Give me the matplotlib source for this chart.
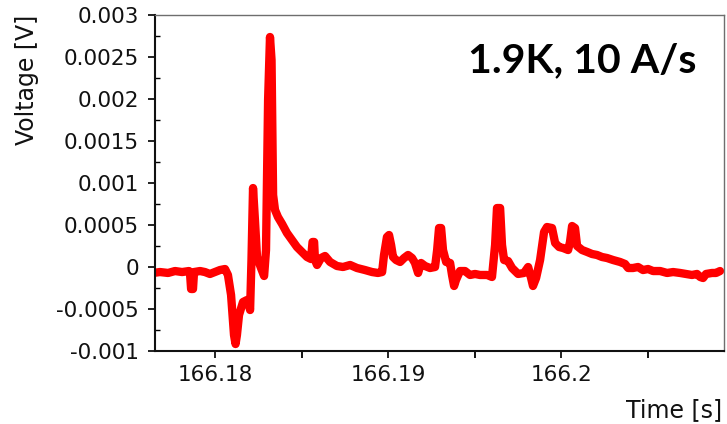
import matplotlib
matplotlib.use("Agg")
import matplotlib.pyplot as plt
import numpy as np
from matplotlib.ticker import FixedLocator, MultipleLocator, FuncFormatter

# Quench-detection voltage trace; time offsets (ms) are relative to t0
t0 = 166.18
time_ms = [
    -3.60, -3.20, -2.73, -2.33, -1.92, -1.52, -1.46, -1.40, -1.29, -1.23,
    -0.88, -0.60, -0.31, -0.02, 0.27, 0.56, 0.73, 0.91, 1.08, 1.17,
    1.25, 1.37, 1.60, 1.83, 1.95, 2.01, 2.09, 2.18, 2.29, 2.41,
    2.64, 2.82, 2.93, 3.05, 3.16, 3.25, 3.34, 3.45, 3.62, 3.86,
    4.14, 4.43, 4.72, 5.01, 5.30, 5.53, 5.62, 5.71, 5.76, 5.88,
    6.11, 6.34, 6.63, 7.03, 7.38, 7.79, 8.19, 8.65, 9.06, 9.40,
    9.64, 9.75, 9.92, 10.04, 10.16, 10.27, 10.45, 10.68, 10.91, 11.14,
    11.37, 11.54, 11.72, 11.89, 12.12, 12.41, 12.70, 12.82, 12.93, 13.05,
    13.16, 13.34, 13.57, 13.68, 13.80, 13.91, 14.14, 14.43, 14.72, 15.01,
    15.30, 15.71, 15.99, 16.17, 16.28, 16.46, 16.57, 16.69, 16.92, 17.15,
    17.50, 17.84, 18.08, 18.25, 18.36, 18.54, 18.77, 19.00, 19.17, 19.46,
    19.64, 19.87, 20.10, 20.39, 20.50, 20.62, 20.79, 20.91, 21.20, 21.49,
    21.77, 22.06, 22.35, 22.64, 22.99, 23.39, 23.68, 23.86, 24.14, 24.43,
    24.72, 25.01, 25.30, 25.71, 26.11, 26.46, 26.86, 27.21, 27.55, 27.84,
    28.02, 28.19, 28.36, 28.71, 28.94, 29.17,
]
voltage_mV = [
    -0.071, -0.060, -0.071, -0.048, -0.060, -0.048, -0.083, -0.262, -0.262, -0.060,
    -0.048, -0.060, -0.083, -0.060, -0.036, -0.024, -0.095, -0.333, -0.810, -0.917,
    -0.810, -0.571, -0.417, -0.393, -0.452, -0.512, 0.083, 0.940, 0.560, 0.119,
    -0.012, -0.107, 0.202, 1.988, 2.738, 2.464, 0.857, 0.679, 0.595, 0.512,
    0.405, 0.321, 0.238, 0.179, 0.119, 0.095, 0.298, 0.298, 0.083, 0.024,
    0.107, 0.131, 0.060, 0.012, 0.000, 0.024, -0.012, -0.036, -0.060, -0.071,
    -0.060, 0.143, 0.357, 0.381, 0.262, 0.119, 0.083, 0.060, 0.107, 0.143,
    0.107, 0.048, -0.071, 0.048, 0.012, -0.012, 0.000, 0.202, 0.464, 0.464,
    0.202, 0.060, 0.048, -0.095, -0.226, -0.155, -0.048, -0.048, -0.095, -0.083,
    -0.095, -0.095, -0.119, 0.262, 0.702, 0.702, 0.262, 0.083, 0.071, -0.012,
    -0.083, -0.071, 0.000, -0.131, -0.226, -0.131, 0.083, 0.417, 0.476, 0.464,
    0.286, 0.238, 0.226, 0.202, 0.298, 0.488, 0.464, 0.250, 0.202, 0.179,
    0.155, 0.143, 0.119, 0.107, 0.083, 0.060, 0.036, -0.012, -0.012, 0.000,
    -0.036, -0.024, -0.048, -0.048, -0.071, -0.060, -0.071, -0.083, -0.095, -0.083,
    -0.119, -0.131, -0.083, -0.071, -0.071, -0.048,
]

x_major = [166.18, 166.19, 166.20]
x_minor = [166.185, 166.195, 166.205]

time_s = t0 + np.array(time_ms) / 1000.0
voltage_V = np.array(voltage_mV) / 1000.0

plt.rcParams["font.family"] = ["DejaVu Sans"]

fig = plt.figure(figsize=(7.27, 4.24), dpi=100)
ax = fig.add_axes([155 / 727, 1 - 351 / 424, (724 - 155) / 727, (351 - 15) / 424])

ax.plot(time_s, voltage_V, color="#ff0000", lw=6,
        solid_joinstyle="round", solid_capstyle="round")

ax.set_xlim(166.176514, 166.20940)
ax.set_ylim(-0.001, 0.003)

ax.xaxis.set_major_locator(FixedLocator(x_major))
ax.xaxis.set_minor_locator(FixedLocator(x_minor))
ax.yaxis.set_major_locator(MultipleLocator(0.0005))
ax.yaxis.set_minor_locator(MultipleLocator(0.00025))

ax.xaxis.set_major_formatter(FuncFormatter(lambda v, p: f"{round(v, 4):g}"))
ax.yaxis.set_major_formatter(FuncFormatter(lambda v, p: f"{round(v, 5):g}"))

ax.tick_params(axis="both", which="major", direction="out", length=5, width=1.3,
               labelsize=15.5, colors="#111111")
ax.tick_params(axis="x", which="major", pad=5)
ax.tick_params(axis="y", which="major", pad=6.5)
ax.tick_params(axis="x", which="minor", direction="out", length=5, width=1.3)
ax.tick_params(axis="y", which="minor", direction="in", length=3.5, width=1.0)

for side in ("left", "bottom"):
    ax.spines[side].set_linewidth(1.5)
    ax.spines[side].set_color("#111111")
for side in ("top", "right"):
    ax.spines[side].set_linewidth(1.0)
    ax.spines[side].set_color("#6e6e6e")

fig.text(27 / 727, 1 - 15 / 424, "Voltage [V]", rotation=90, fontsize=17,
         ha="center", va="top", color="#111111")
fig.text(722 / 727, 1 - 410 / 424, "Time [s]", fontsize=17,
         ha="right", va="center", color="#111111")

fig.text(697 / 727, 1 - 72 / 424, "1.9K, 10 A/s", fontsize=29.5, fontweight="bold",
         family=["Lato", "DejaVu Sans"], ha="right", va="baseline", color="black")

fig.savefig("out.png", dpi=100)
